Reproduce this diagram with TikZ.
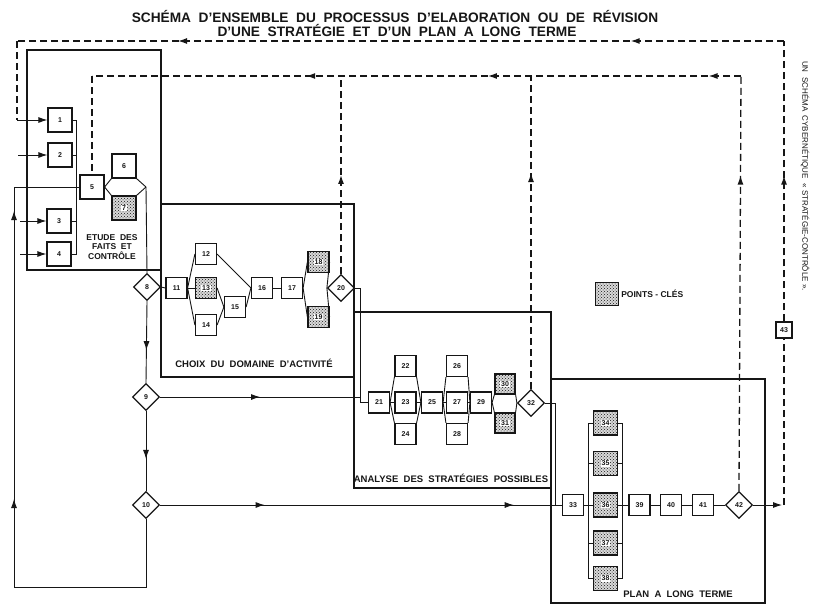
\documentclass[tikz,border=0pt]{standalone}
\usepackage{fontspec}
\setsansfont{Liberation Sans}
\usetikzlibrary{arrows.meta, shapes.geometric, patterns, decorations.markings}
\definecolor{ink}{RGB}{22,22,22}
\newcommand{\keynum}[1]{{\setlength{\fboxsep}{0.7pt}\colorbox{white}{#1}}}

\begin{document}
\begin{tikzpicture}[x=1pt, y=-1pt, ink,
   every node/.style={font=\sffamily\bfseries},
   box/.style={draw, line width=1.2pt, fill=white, minimum size=21pt, inner sep=0pt,
               font=\sffamily\bfseries\fontsize{7}{7}\selectfont},
   bigbox/.style={box, minimum size=24pt},
   keybox/.style={box, preaction={fill=gray!30}, pattern=crosshatch dots, pattern color=ink},
   bigkey/.style={keybox, minimum size=24pt},
   decision/.style={diamond, aspect=1, draw, line width=1.2pt, fill=white, minimum size=27pt,
               inner sep=0pt, font=\sffamily\bfseries\fontsize{7}{7}\selectfont},
   block/.style={draw, line width=2.8pt},
   blocklabel/.style={font=\sffamily\bfseries\fontsize{9.5}{10.5}\selectfont, align=center, inner sep=0pt},
   link/.style={line width=0.9pt},
   flow/.style={link, -{Latex[length=9pt, width=6pt]}},
   dashlink/.style={line width=1.3pt, dash pattern=on 7pt off 4pt},
   arrat/.style={postaction={decorate, decoration={markings,
               mark=at position #1 with {\arrow{Latex[length=9pt, width=6pt]}}}}}]

  \fill[white] (0,0) rectangle (813,605);
  \useasboundingbox (0,0) rectangle (813,605);

  % title
  \node[font=\sffamily\bfseries\fontsize{13.7}{15}\selectfont] (title1) at (395,16)
       {SCHÉMA~ D’ENSEMBLE~ DU~ PROCESSUS~ D’ELABORATION~ OU~ DE~ RÉVISION};
  \node[font=\sffamily\bfseries\fontsize{13.7}{15}\selectfont] (title2) at (397,30)
       {D’UNE~ STRATÉGIE~ ET~ D’UN~ PLAN~ A~ LONG~ TERME};
  \node[font=\sffamily\fontsize{8}{9}\selectfont, rotate=-90] (margin) at (805,176)
       {UN~ SCHÉMA~ CYBERNÉTIQUE~ « STRATÉGIE-CONTRÔLE ».};

  % the four stages
  \draw[block] (27,50) rectangle (161,270);
  \draw[block] (161,204) rectangle (354,377);
  \draw[block] (354,312) rectangle (551,488);
  \draw[block] (551,379) rectangle (765,603);
  \node[blocklabel, font=\sffamily\bfseries\fontsize{8.5}{9.5}\selectfont] (etude) at (112,247)
       {ETUDE~~DES\\FAITS~ ET\\CONTRÔLE};
  \node[blocklabel] (choix) at (254,363) {CHOIX~~DU~~DOMAINE~~D’ACTIVITÉ};
  \node[blocklabel] (analyse) at (451,478) {ANALYSE~~DES~~STRATÉGIES~~POSSIBLES};
  \node[blocklabel] (plan) at (678,594) {PLAN~~A~~LONG~~TERME};

  % facts and control
  \node[bigbox] (n1) at (60,120) {1};
  \node[bigbox] (n2) at (60,155) {2};
  \node[bigbox] (n3) at (59,221) {3};
  \node[bigbox] (n4) at (59,254) {4};
  \node[bigbox] (n5) at (92,187) {5};
  \node[bigbox] (n6) at (124,166) {6};
  \node[bigkey] (n7) at (124,208) {\keynum{7}};
  \coordinate (in1) at (17,120);
  \coordinate (in2) at (18,155);
  \coordinate (in3) at (20,221);
  \coordinate (in4) at (20,254);
  \coordinate (b1) at (76,120);
  \coordinate (b4) at (76,254);
  \coordinate (j67) at (146,187);
  \draw[flow] (in1) -- (n1.west);
  \draw[flow] (in2) -- (n2.west);
  \draw[flow] (in3) -- (n3.west);
  \draw[flow] (in4) -- (n4.west);
  \draw[link] (n1.east) -- (b1) -- (b4) -- (n4.east);
  \draw[link] (n2.east) -- (n2.east -| b1);
  \draw[link] (n3.east) -- (n3.east -| b1);
  \draw[link] (n5.east) -- (n6.south west);
  \draw[link] (n5.east) -- (n7.north west);
  \draw[link] (n6.south east) -- (j67);
  \draw[link] (n7.north east) -- (j67);

  % decisions
  \node[decision] (n8) at (147,287) {8};
  \node[decision] (n9) at (146,397) {9};
  \node[decision] (n10) at (146,505) {10};
  \draw[link] (j67) -- (n8.north);
  \draw[link, arrat=0.6] (n8.south) -- (n9.north);
  \draw[link, arrat=0.6] (n9.south) -- (n10.north);

  % field of activity
  \node[box] (n11) at (176.5,288) {11};
  \node[box] (n12) at (206,254) {12};
  \node[keybox] (n13) at (206,288) {\keynum{13}};
  \node[box] (n14) at (206,325) {14};
  \node[box] (n15) at (235,307) {15};
  \node[box] (n16) at (262,288) {16};
  \node[box] (n17) at (292,288) {17};
  \node[keybox] (n18) at (318.5,262) {\keynum{18}};
  \node[keybox] (n19) at (318.5,317) {\keynum{19}};
  \node[decision] (n20) at (341,288) {20};
  \draw[link] (n8.east) -- (n11.west);
  \draw[link] (n11.east) -- (n12.west);
  \draw[link] (n11.east) -- (n13.west);
  \draw[link] (n11.east) -- (n14.west);
  \draw[link] (n12.east) -- (n16.west);
  \draw[link] (n13.east) -- (n15.west);
  \draw[link] (n14.east) -- (n15.west);
  \draw[link] (n15.east) -- (n16.west);
  \draw[link] (n16.east) -- (n17.west);
  \draw[link] (n17.east) -- (n18.west);
  \draw[link] (n17.east) -- (n19.west);
  \draw[link] (n18.east) -- (n20.west);
  \draw[link] (n19.east) -- (n20.west);

  % possible strategies
  \node[box] (n21) at (379,402.5) {21};
  \node[box] (n22) at (405.5,366) {22};
  \node[box] (n23) at (405.5,402.5) {23};
  \node[box] (n24) at (405.5,434) {24};
  \node[box] (n25) at (432,402.5) {25};
  \node[box] (n26) at (457,366) {26};
  \node[box] (n27) at (457,402.5) {27};
  \node[box] (n28) at (457,434) {28};
  \node[box] (n29) at (481,402.5) {29};
  \node[keybox, minimum size=20pt] (n30) at (505,384) {\keynum{30}};
  \node[keybox, minimum size=20pt] (n31) at (505,423) {\keynum{31}};
  \node[decision] (n32) at (531,403) {32};
  \coordinate (j20) at (360,288);
  \coordinate (j21) at (360,402.5);
  \coordinate (j9) at (360,397);
  \draw[link] (n20.east) -- (j20) -- (j21) -- (n21.west);
  \draw[link, arrat=0.5] (n9.east) -- (j9);
  \draw[link] (n21.east) -- (n22.south west);
  \draw[link] (n21.east) -- (n23.west);
  \draw[link] (n21.east) -- (n24.north west);
  \draw[link] (n22.south east) -- (n25.west);
  \draw[link] (n23.east) -- (n25.west);
  \draw[link] (n24.north east) -- (n25.west);
  \draw[link] (n25.east) -- (n26.south west);
  \draw[link] (n25.east) -- (n27.west);
  \draw[link] (n25.east) -- (n28.north west);
  \draw[link] (n26.south east) -- (n29.west);
  \draw[link] (n27.east) -- (n29.west);
  \draw[link] (n28.north east) -- (n29.west);
  \draw[link] (n29.east) -- (n30.south west);
  \draw[link] (n29.east) -- (n31.north west);
  \draw[link] (n30.south east) -- (n32.west);
  \draw[link] (n31.north east) -- (n32.west);

  % long-term plan
  \node[box] (n33) at (573,505) {33};
  \node[bigkey] (n34) at (605.5,423) {\keynum{34}};
  \node[bigkey] (n35) at (605.5,463.5) {\keynum{35}};
  \node[bigkey] (n36) at (605.5,505) {\keynum{36}};
  \node[bigkey] (n37) at (605.5,543) {\keynum{37}};
  \node[bigkey] (n38) at (605.5,578.5) {\keynum{38}};
  \node[box] (n39) at (639.5,505) {39};
  \node[box] (n40) at (671,505) {40};
  \node[box] (n41) at (703,505) {41};
  \node[decision] (n42) at (739,505) {42};
  \coordinate (j32) at (555,403);
  \coordinate (j33) at (555,505);
  \coordinate (bl) at (588,423);
  \coordinate (br) at (622,423);
  \draw[link] (n32.east) -- (j32) -- (j33);
  \draw[link, arrat=0.26, arrat=0.88] (n10.east) -- (n33.west);
  \draw[link] (n34.west) -- (bl) -- (bl |- n38.west) -- (n38.west);
  \draw[link] (n34.east) -- (br) -- (br |- n38.east) -- (n38.east);
  \draw[link] (n35.west) -- (n35.west -| bl);
  \draw[link] (n37.west) -- (n37.west -| bl);
  \draw[link] (n35.east) -- (n35.east -| br);
  \draw[link] (n37.east) -- (n37.east -| br);
  \draw[link] (n33.east) -- (n36.west);
  \draw[link] (n36.east) -- (n39.west);
  \draw[link] (n39.east) -- (n40.west);
  \draw[link] (n40.east) -- (n41.west);
  \draw[link] (n41.east) -- (n42.west);

  % key
  \node[bigkey, minimum size=23pt] (keybox) at (607,294) {};
  \node[anchor=west, font=\sffamily\bfseries\fontsize{8.5}{9}\selectfont, inner sep=2pt]
       (keylabel) at (keybox.east) {POINTS - CLÉS};

  % feedback from 10 back to 5
  \coordinate (f1) at (146,587);
  \coordinate (f2) at (14,587);
  \coordinate (f3) at (14,187);
  \draw[link] (n10.south) -- (f1) -- (f2);
  \draw[link, arrat=0.22, arrat=0.94] (f2) -- (f3);
  \draw[link] (f3) -- (n5.west);

  % inner control loop (dashed)
  \coordinate (t20) at (341,76);
  \coordinate (t32) at (531,76);
  \coordinate (t42) at (741,76);
  \coordinate (t5) at (92,76);
  \draw[dashlink, arrat=0.5] (n20.north) -- (t20);
  \draw[dashlink, arrat=0.69] (n32.north) -- (t32);
  \draw[dashlink, arrat=0.76] (n42.north) -- (t42);
  \draw[dashlink, arrat=0.05, arrat=0.39, arrat=0.67] (t42) -- (t5);
  \draw[dashlink] (t5) -- (n5.north);

  % outer loop through 43 (dashed)
  \node[box, minimum size=16pt] (n43) at (784,330) {43};
  \coordinate (r42) at (784,505);
  \coordinate (r43) at (784,41);
  \coordinate (l43) at (17,41);
  \draw[flow, shorten >=2pt] (n42.east) -- (r42);
  \draw[dashlink] (r42) -- (n43.south);
  \draw[dashlink, arrat=0.52] (n43.north) -- (r43);
  \draw[dashlink, arrat=0.2, arrat=0.79] (r43) -- (l43);
  \draw[dashlink] (l43) -- (in1);
\end{tikzpicture}
\end{document}
